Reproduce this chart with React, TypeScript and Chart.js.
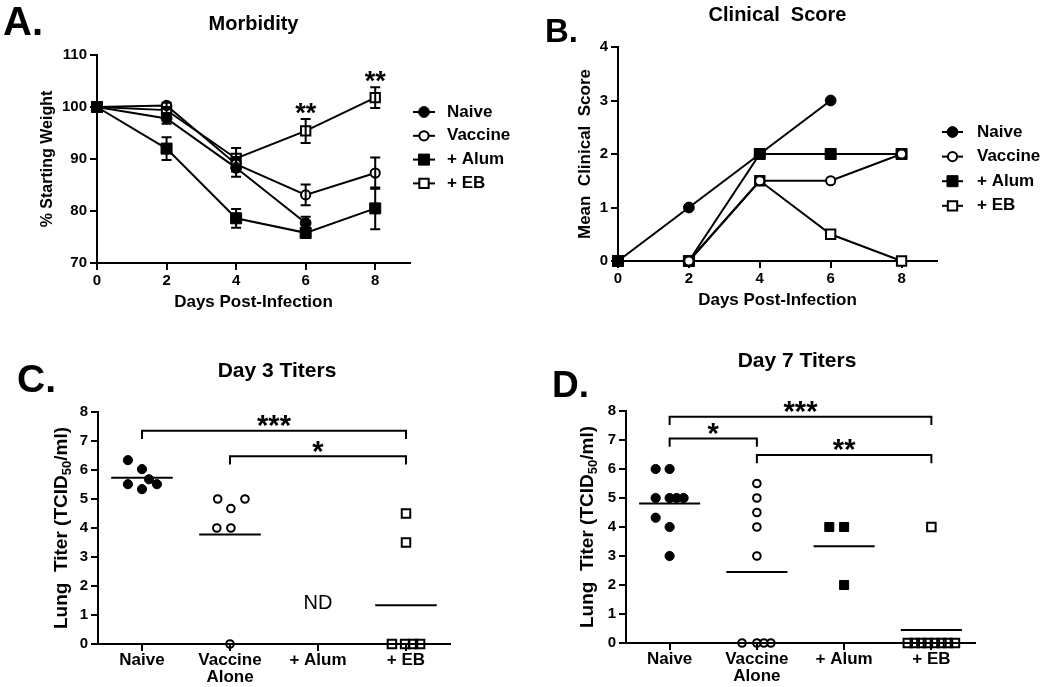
import React, { useEffect, useRef } from "react";
import { Chart, registerables } from "chart.js";

Chart.register(...registerables);

const FONT = "'Liberation Sans', Arial, Helvetica, sans-serif";
const INK = "#000000";

// ===== Panel A : Morbidity (% starting weight, mean ± SEM) =====
const dayTicks = [0, 2, 4, 6, 8];
const groupLabels = ["Naive", "Vaccine", "+ Alum", "+ EB"];
const weightDays = [0, 2, 4, 6, 8];
const weightNaive = [100, 97.8, 88.3, 77.7];
const weightVaccine = [100, 100.3, 89.0, 83.1, 87.3];
const weightAlum = [100, 92.0, 78.6, 75.8, 80.5];
const weightEB = [100, 99.4, 90.1, 95.4, 101.8];
const semNaive = [0, 1.0, 1.7, 1.2];
const semVaccine = [0, 0.5, 1.4, 2.0, 3.0];
const semAlum = [0, 2.2, 1.8, 1.0, 4.0];
const semEB = [0, 0.6, 2.0, 2.3, 2.0];
const weightStarDays = [6, 8];
const weightStarText = ["**", "**"];

// ===== Panel B : Clinical score =====
const scoreDays = [0, 2, 4, 6, 8];
const scoreNaive = [0, 1, 2, 3];
const scoreVaccine = [0, 0, 1.5, 1.5, 2];
const scoreAlum = [0, 0, 2, 2, 2];
const scoreEB = [0, 0, 1.5, 0.5, 0];

// ===== Panels C & D : lung titers =====
const titerCategories = ["Naive", ["Vaccine", "Alone"], "+ Alum", "+ EB"];

const day3Naive = [6.34, 6.03, 5.68, 5.51, 5.51, 5.34];
const day3NaiveSpread = [-0.16, 0, 0.08, 0.17, -0.16, 0];
const day3Vaccine = [5.0, 4.67, 5.0, 4.0, 4.0, 0];
const day3VaccineSpread = [-0.14, 0.01, 0.17, -0.15, 0.01, 0];
const day3Alum: number[] = [];
const day3AlumSpread: number[] = [];
const day3EB = [4.5, 3.5, 0, 0, 0, 0];
const day3EBSpread = [0, 0, -0.16, -0.01, 0.08, 0.16];
const day3Brackets = [
  { from: 0, to: 3, level: 7.35, text: "***" },
  { from: 1, to: 3, level: 6.47, text: "*" },
];
const day3Notes = [{ group: 2, value: 1.4, text: "ND" }];

const day7Naive = [6, 6, 5, 5, 5, 5, 4.32, 4, 3];
const day7NaiveSpread = [-0.16, 0, -0.16, 0, 0.08, 0.16, -0.16, 0, 0];
const day7Vaccine = [5.5, 5, 4.5, 4, 3, 0, 0, 0, 0];
const day7VaccineSpread = [0, 0, 0, 0, 0, -0.17, 0, 0.08, 0.16];
const day7Alum = [4, 4, 2];
const day7AlumSpread = [-0.17, 0, 0];
const day7EB = [4, 0, 0, 0, 0, 0, 0, 0, 0];
const day7EBSpread = [0, -0.27, -0.19, -0.115, -0.04, 0.04, 0.115, 0.19, 0.27];
const day7Brackets = [
  { from: 0, to: 3, level: 7.8, text: "***" },
  { from: 0, to: 1, level: 7.05, text: "*" },
  { from: 1, to: 3, level: 6.48, text: "**" },
];
const day7Notes: { group: number; value: number; text: string }[] = [];

// ===== styles =====
const groupMarkers = [
  { shape: "circle", filled: true },
  { shape: "circle", filled: false },
  { shape: "rect", filled: true },
  { shape: "rect", filled: false },
];
const BRACKET_DROP = 0.28;

const bold = (size: number) => ({ family: FONT, size, weight: "bold" as const });

function markerProps(m: any, big: boolean) {
  const r =
    m.shape === "circle"
      ? m.filled
        ? big ? 5.4 : 4.6
        : big ? 4.6 : 3.8
      : m.filled
      ? big ? 7.8 : 6.4
      : big ? 6.6 : 6.0;
  return {
    pointStyle: m.shape,
    pointRadius: r,
    pointHoverRadius: r,
    pointBackgroundColor: m.filled ? INK : big ? "#ffffff" : "rgba(0,0,0,0)",
    pointBorderColor: INK,
    pointBorderWidth: m.filled ? 1 : 2,
  };
}

function drawMarker(ctx: CanvasRenderingContext2D, x: number, y: number, m: any, r: number) {
  ctx.save();
  ctx.lineWidth = m.filled ? 1 : 2;
  ctx.strokeStyle = INK;
  ctx.fillStyle = m.filled ? INK : "#ffffff";
  ctx.beginPath();
  if (m.shape === "circle") ctx.arc(x, y, r, 0, Math.PI * 2);
  else {
    const h = r * Math.SQRT1_2;
    ctx.rect(x - h, y - h, 2 * h, 2 * h);
  }
  ctx.fill();
  ctx.stroke();
  ctx.restore();
}

function baseAxis() {
  return {
    border: { display: true, color: INK, width: 2 },
    grid: {
      display: true,
      drawOnChartArea: false,
      drawTicks: true,
      tickLength: 7,
      tickWidth: 2,
      tickColor: INK,
      color: INK,
      lineWidth: 2,
    },
  };
}

function drawText(ctx: CanvasRenderingContext2D, text: string, x: number, y: number, font: string, align: CanvasTextAlign, baseline: CanvasTextBaseline) {
  ctx.save();
  ctx.fillStyle = INK;
  ctx.font = font;
  ctx.textAlign = align;
  ctx.textBaseline = baseline;
  ctx.fillText(text, x, y);
  ctx.restore();
}

// ===== time-course panels (A, B) =====
function makeTimeCourse(canvas: HTMLCanvasElement, p: any) {
  const datasets = p.series.map((s: any, i: number) => ({
    label: s.label,
    data: s.values.map((v: number, k: number) => ({ x: s.days[k], y: v })),
    sem: s.sem,
    borderColor: INK,
    borderWidth: 2,
    fill: false,
    tension: 0,
    clip: false,
    marker: groupMarkers[i],
    ...markerProps(groupMarkers[i], true),
  }));

  const plugin = {
    id: "decor" + p.letter,
    afterDatasetsDraw(chart: any) {
      const { ctx, scales } = chart;
      const x = scales.x, y = scales.y;
      ctx.save();
      ctx.strokeStyle = INK;
      ctx.lineWidth = 2;
      chart.data.datasets.forEach((ds: any) => {
        if (!ds.sem) return;
        ds.data.forEach((pt: any, k: number) => {
          const e = ds.sem[k];
          if (!e) return;
          const px = x.getPixelForValue(pt.x);
          const t = y.getPixelForValue(pt.y + e);
          const b = y.getPixelForValue(pt.y - e);
          ctx.beginPath();
          ctx.moveTo(px, t); ctx.lineTo(px, b);
          ctx.moveTo(px - 5, t); ctx.lineTo(px + 5, t);
          ctx.moveTo(px - 5, b); ctx.lineTo(px + 5, b);
          ctx.stroke();
        });
      });
      ctx.restore();

      // significance stars above the + EB series
      if (p.stars) {
        const eb = chart.data.datasets[3];
        p.stars.days.forEach((d: number, i: number) => {
          const k = eb.data.findIndex((pt: any) => pt.x === d);
          const pt = eb.data[k];
          const top = y.getPixelForValue(pt.y + (eb.sem ? eb.sem[k] : 0));
          const size = 27;
          drawText(ctx, p.stars.text[i], x.getPixelForValue(d), top - 12 + 0.56 * size, `bold ${size}px ${FONT}`, "center", "alphabetic");
        });
      }

      // legend
      const L = p.legend;
      chart.data.datasets.forEach((ds: any, i: number) => {
        const ly = L.y0 + i * L.dy;
        ctx.save();
        ctx.strokeStyle = INK;
        ctx.lineWidth = 2;
        ctx.beginPath();
        ctx.moveTo(L.x0, ly);
        ctx.lineTo(L.x1, ly);
        ctx.stroke();
        ctx.restore();
        drawMarker(ctx, (L.x0 + L.x1) / 2, ly, ds.marker, ds.pointRadius);
        drawText(ctx, ds.label, L.textX, ly, `bold 17px ${FONT}`, "left", "middle");
      });

      // panel letter and title
      drawText(ctx, p.letter, p.letterX, p.letterBase, `bold ${p.letterSize}px ${FONT}`, "left", "alphabetic");
      const ca = chart.chartArea;
      drawText(ctx, p.title, (ca.left + ca.right) / 2, p.titleBase, `bold ${p.titleSize}px ${FONT}`, "center", "alphabetic");
    },
  };

  return new Chart(canvas, {
    type: "line",
    data: { datasets },
    plugins: [plugin],
    options: {
      animation: false,
      responsive: false,
      devicePixelRatio: 1,
      events: [],
      layout: { padding: p.padding },
      plugins: { legend: { display: false }, tooltip: { enabled: false } },
      scales: {
        x: {
          ...baseAxis(),
          type: "linear",
          min: 0,
          max: 9,
          afterBuildTicks: (s: any) => { s.ticks = dayTicks.map((v) => ({ value: v })); },
          afterFit: (s: any) => { s.height = 50; },
          ticks: { color: INK, font: bold(15), padding: 2, autoSkip: false, maxRotation: 0 },
          title: { display: true, text: "Days Post-Infection", color: INK, font: bold(17), padding: 0 },
        },
        y: {
          ...baseAxis(),
          type: "linear",
          min: p.yMin,
          max: p.yMax,
          afterFit: (s: any) => { s.width = p.yWidth; },
          ticks: { stepSize: p.yStep, color: INK, font: bold(15), padding: 3 },
          title: { display: true, text: p.yTitle, color: INK, font: bold(p.yTitleSize), padding: 0 },
        },
      },
    } as any,
  });
}

// ===== titer panels (C, D) =====
function makeTiter(canvas: HTMLCanvasElement, p: any) {
  const datasets: any[] = [];
  p.groups.forEach((g: any, i: number) => {
    const m = groupMarkers[i];
    datasets.push({
      data: g.values.map((v: number, k: number) => ({ x: i + g.spread[k], y: v })),
      showLine: false,
      clip: false,
      ...markerProps(m, false),
    });
    if (g.values.length) {
      const mean = g.values.reduce((a: number, b: number) => a + b, 0) / g.values.length;
      datasets.push({
        data: [{ x: i - 0.35, y: mean }, { x: i + 0.35, y: mean }],
        showLine: true,
        borderColor: INK,
        borderWidth: 2,
        pointRadius: 0,
        clip: false,
      });
    }
  });
  p.brackets.forEach((b: any) => {
    datasets.push({
      data: [
        { x: b.from, y: b.level - BRACKET_DROP },
        { x: b.from, y: b.level },
        { x: b.to, y: b.level },
        { x: b.to, y: b.level - BRACKET_DROP },
      ],
      showLine: true,
      borderColor: INK,
      borderWidth: 2,
      pointRadius: 0,
      clip: false,
    });
  });

  const plugin = {
    id: "titer" + p.letter,
    afterDraw(chart: any) {
      const { ctx, scales, chartArea: ca } = chart;
      const x = scales.x, y = scales.y;
      // stars
      p.brackets.forEach((b: any) => {
        const size = 29;
        const by = y.getPixelForValue(b.level);
        const bx = (x.getPixelForValue(b.from) + x.getPixelForValue(b.to)) / 2;
        drawText(ctx, b.text, bx, by - 12 + 0.56 * size, `bold ${size}px ${FONT}`, "center", "alphabetic");
      });
      // notes (ND)
      p.notes.forEach((n: any) => {
        drawText(ctx, n.text, x.getPixelForValue(n.group), y.getPixelForValue(n.value), `20px ${FONT}`, "center", "middle");
      });
      // y title with subscript
      ctx.save();
      ctx.translate(p.yTitleX, (ca.top + ca.bottom) / 2);
      ctx.rotate(-Math.PI / 2);
      ctx.fillStyle = INK;
      ctx.textBaseline = "middle";
      ctx.textAlign = "left";
      const big = `bold 19px ${FONT}`;
      const small = `bold 13px ${FONT}`;
      const parts = [
        { t: "Lung  Titer (TCID", f: big, dy: 0 },
        { t: "50", f: small, dy: 5 },
        { t: "/ml)", f: big, dy: 0 },
      ];
      let total = 0;
      parts.forEach((pt) => { ctx.font = pt.f; total += ctx.measureText(pt.t).width; });
      let cx = -total / 2;
      parts.forEach((pt) => {
        ctx.font = pt.f;
        ctx.fillText(pt.t, cx, pt.dy);
        cx += ctx.measureText(pt.t).width;
      });
      ctx.restore();
      // letter and title
      drawText(ctx, p.letter, p.letterX, p.letterBase, `bold ${p.letterSize}px ${FONT}`, "left", "alphabetic");
      drawText(ctx, p.title, p.titleX, p.titleBase, `bold 21px ${FONT}`, "center", "alphabetic");
    },
  };

  return new Chart(canvas, {
    type: "scatter",
    data: { datasets },
    plugins: [plugin],
    options: {
      animation: false,
      responsive: false,
      devicePixelRatio: 1,
      events: [],
      layout: { padding: p.padding },
      plugins: { legend: { display: false }, tooltip: { enabled: false } },
      scales: {
        x: {
          ...baseAxis(),
          type: "linear",
          min: -0.5,
          max: 3.5,
          afterBuildTicks: (s: any) => { s.ticks = titerCategories.map((_, i) => ({ value: i })); },
          afterFit: (s: any) => { s.height = 40; },
          ticks: {
            color: INK,
            font: { ...bold(17), lineHeight: 1.05 },
            padding: 0,
            autoSkip: false,
            maxRotation: 0,
            callback: (v: any) => titerCategories[v],
          },
        },
        y: {
          ...baseAxis(),
          type: "linear",
          min: 0,
          max: 8,
          afterFit: (s: any) => { s.width = p.yWidth; },
          ticks: { stepSize: 1, color: INK, font: bold(15), padding: 3 },
        },
      },
    } as any,
  });
}

export default function App() {
  const refA = useRef<HTMLCanvasElement>(null);
  const refB = useRef<HTMLCanvasElement>(null);
  const refC = useRef<HTMLCanvasElement>(null);
  const refD = useRef<HTMLCanvasElement>(null);

  useEffect(() => {
    const charts = [
      makeTimeCourse(refA.current!, {
        series: [
          { label: groupLabels[0], days: weightDays, values: weightNaive, sem: semNaive },
          { label: groupLabels[1], days: weightDays, values: weightVaccine, sem: semVaccine },
          { label: groupLabels[2], days: weightDays, values: weightAlum, sem: semAlum },
          { label: groupLabels[3], days: weightDays, values: weightEB, sem: semEB },
        ],
        yMin: 70, yMax: 110, yStep: 10,
        yTitle: "% Starting Weight", yTitleSize: 16, yWidth: 59,
        padding: { left: 38, top: 55, right: 110, bottom: 22 },
        legend: { x0: 413, x1: 435, textX: 447, y0: 112, dy: 23.8 },
        stars: { days: weightStarDays, text: weightStarText },
        letter: "A.", letterX: 3, letterBase: 35, letterSize: 40,
        title: "Morbidity", titleBase: 30, titleSize: 20,
      }),
      makeTimeCourse(refB.current!, {
        series: [
          { label: groupLabels[0], days: scoreDays, values: scoreNaive },
          { label: groupLabels[1], days: scoreDays, values: scoreVaccine },
          { label: groupLabels[2], days: scoreDays, values: scoreAlum },
          { label: groupLabels[3], days: scoreDays, values: scoreEB },
        ],
        yMin: 0, yMax: 4, yStep: 1,
        yTitle: "Mean  Clinical  Score", yTitleSize: 17, yWidth: 43,
        padding: { left: 55, top: 47, right: 113, bottom: 24 },
        legend: { x0: 422, x1: 443, textX: 457, y0: 132, dy: 24.6 },
        letter: "B.", letterX: 25, letterBase: 42, letterSize: 33,
        title: "Clinical  Score", titleBase: 21, titleSize: 20,
      }),
      makeTiter(refC.current!, {
        groups: [
          { values: day3Naive, spread: day3NaiveSpread },
          { values: day3Vaccine, spread: day3VaccineSpread },
          { values: day3Alum, spread: day3AlumSpread },
          { values: day3EB, spread: day3EBSpread },
        ],
        brackets: day3Brackets,
        notes: day3Notes,
        yWidth: 58, yTitleX: 62,
        padding: { left: 40, top: 77, right: 70, bottom: 3 },
        letter: "C.", letterX: 17, letterBase: 57, letterSize: 39,
        title: "Day 3 Titers", titleX: 277, titleBase: 42,
      }),
      makeTiter(refD.current!, {
        groups: [
          { values: day7Naive, spread: day7NaiveSpread },
          { values: day7Vaccine, spread: day7VaccineSpread },
          { values: day7Alum, spread: day7AlumSpread },
          { values: day7EB, spread: day7EBSpread },
        ],
        brackets: day7Brackets,
        notes: day7Notes,
        yWidth: 58, yTitleX: 68,
        padding: { left: 48, top: 76, right: 75, bottom: 4 },
        letter: "D.", letterX: 32, letterBase: 62, letterSize: 37,
        title: "Day 7 Titers", titleX: 277, titleBase: 32,
      }),
    ];
    return () => charts.forEach((c) => c.destroy());
  }, []);

  const pos = (l: number, t: number, w: number, h: number): React.CSSProperties => ({
    position: "absolute", left: l, top: t, width: w, height: h,
  });

  return (
    <div style={{ position: "fixed", left: 0, top: 0, width: 1050, height: 687, background: "#ffffff", overflow: "hidden" }}>
      <canvas ref={refA} width={520} height={335} style={pos(0, 0, 520, 335)} />
      <canvas ref={refB} width={530} height={335} style={pos(520, 0, 530, 335)} />
      <canvas ref={refC} width={520} height={352} style={pos(0, 335, 520, 352)} />
      <canvas ref={refD} width={530} height={352} style={pos(520, 335, 530, 352)} />
    </div>
  );
}
